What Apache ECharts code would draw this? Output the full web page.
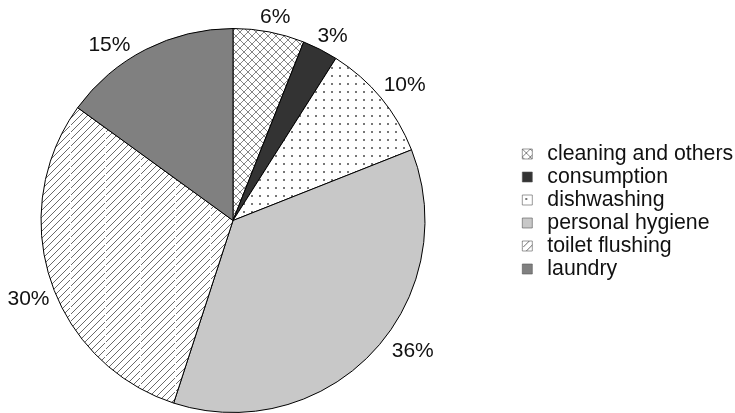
<!DOCTYPE html>
<html>
<head>
<meta charset="utf-8">
<script src="https://cdn.jsdelivr.net/npm/echarts@6/dist/echarts.min.js"></script>
<style>
  html, body { margin: 0; padding: 0; background: #fff; }
  #chart { width: 735px; height: 413px; }
</style>
</head>
<body>
<div id="chart"></div>
<script>
// Household water use by purpose (share of total, %)
const categories = ['cleaning and others', 'consumption', 'dishwashing', 'personal hygiene', 'toilet flushing', 'laundry'];
const shares = [6, 3, 10, 36, 30, 15];
const labelTexts = ['6%', '3%', '10%', '36%', '30%', '15%'];

// Pie geometry (pixels)
const CX = 233, CY = 220.5, R = 192;
const LABEL_R = 215;
// small per-label nudges applied after radial placement
const labelNudge = [[2, 8], [2, 7], [6, 2], [23, -16], [0, 12], [-26, 16]];

// --- fill patterns drawn on small canvases ---
function makeCanvas(w, h) {
  const c = document.createElement('canvas');
  c.width = w; c.height = h;
  return c;
}
function crossHatch() {
  const s = 8;
  const c = makeCanvas(s, s);
  const g = c.getContext('2d');
  g.fillStyle = '#fff'; g.fillRect(0, 0, s, s);
  g.strokeStyle = '#666'; g.lineWidth = 0.8;
  g.beginPath();
  g.moveTo(0, 0); g.lineTo(s, s);
  g.moveTo(s, 0); g.lineTo(0, s);
  g.stroke();
  return c;
}
function dots() {
  const s = 8;
  const c = makeCanvas(s, s);
  const g = c.getContext('2d');
  g.fillStyle = '#fff'; g.fillRect(0, 0, s, s);
  g.fillStyle = '#777';
  g.fillRect(3, 3, 2, 2);
  return c;
}
function diagonal() {
  const p = 7, W = 35, H = 35;
  const c = makeCanvas(W, H);
  const g = c.getContext('2d');
  g.fillStyle = '#fff'; g.fillRect(0, 0, W, H);
  g.save();
  g.beginPath(); g.rect(1, 0, W - 1, H); g.clip();
  g.strokeStyle = '#444'; g.lineWidth = 0.8;
  g.beginPath();
  for (let k = -H; k <= W + H; k += p) {
    g.moveTo(k, H); g.lineTo(k + H, 0);
  }
  g.stroke();
  g.restore();
  return c;
}

const fills = [
  { image: crossHatch(), repeat: 'repeat' },
  '#333333',
  { image: dots(), repeat: 'repeat' },
  '#c8c8c8',
  { image: diagonal(), repeat: 'repeat' },
  '#808080'
];

const total = shares.reduce((a, b) => a + b, 0);
const midAngles = [];
{
  let acc = 0;
  shares.forEach(v => {
    midAngles.push((acc + v / 2) / total * 2 * Math.PI);
    acc += v;
  });
}

const chart = echarts.init(document.getElementById('chart'), null, { renderer: 'canvas' });
chart.setOption({
  animation: false,
  textStyle: { fontFamily: 'Liberation Sans, Arial, sans-serif' },
  legend: {
    orient: 'vertical',
    left: 522,
    top: 143.5,
    padding: 0,
    itemWidth: 10,
    itemHeight: 10,
    itemGap: 2,
    icon: 'rect',
    data: categories,
    itemStyle: { borderColor: '#555', borderWidth: 0.6 },
    textStyle: {
      fontSize: 21.3,
      lineHeight: 21,
      color: '#111',
      fontFamily: 'Liberation Sans, Arial, sans-serif',
      padding: [0, 0, 0, 10]
    }
  },
  series: [{
    type: 'pie',
    center: [CX, CY],
    radius: R,
    startAngle: 90,
    clockwise: true,
    avoidLabelOverlap: false,
    itemStyle: { borderColor: '#000', borderWidth: 1 },
    label: {
      show: true,
      position: 'outside',
      fontSize: 21,
      color: '#111',
      fontFamily: 'Liberation Sans, Arial, sans-serif',
      formatter: p => labelTexts[p.dataIndex]
    },
    labelLine: { show: false },
    labelLayout: params => {
      const i = params.dataIndex;
      const a = midAngles[i];
      return {
        x: CX + LABEL_R * Math.sin(a) + labelNudge[i][0],
        y: CY - LABEL_R * Math.cos(a) + labelNudge[i][1],
        align: 'center',
        verticalAlign: 'middle'
      };
    },
    emphasis: { disabled: true },
    data: categories.map((name, i) => ({
      name,
      value: shares[i],
      itemStyle: { color: fills[i] }
    }))
  }]
});
</script>
</body>
</html>
